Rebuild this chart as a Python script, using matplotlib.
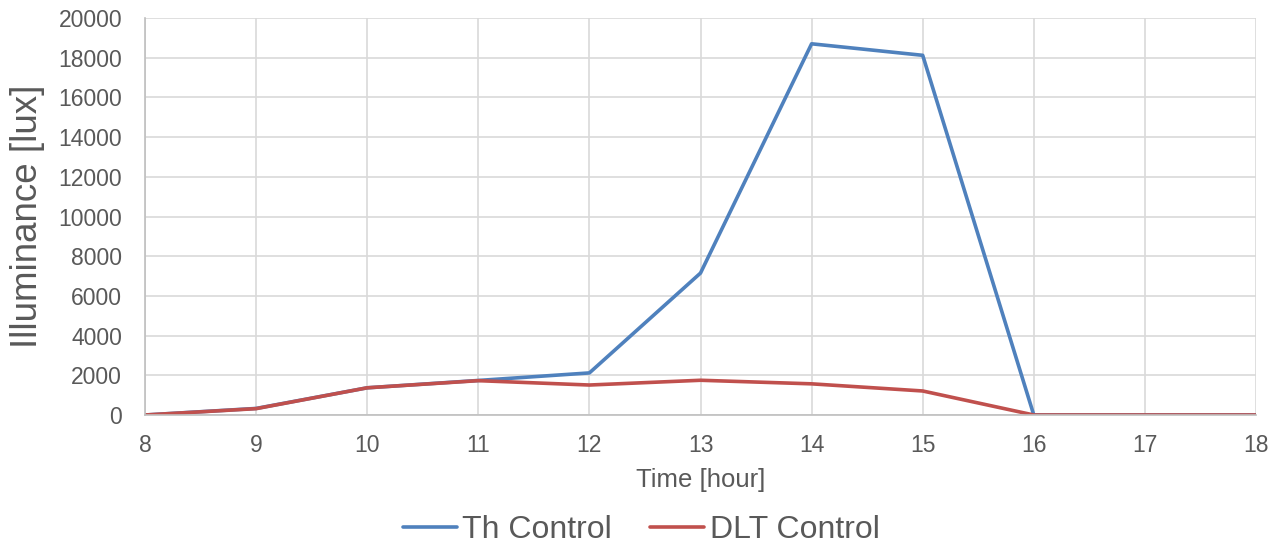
import matplotlib.pyplot as plt

# data
hours = [8, 9, 10, 11, 12, 13, 14, 15, 16, 17, 18]
th_control = [0, 330, 1370, 1740, 2120, 7150, 18700, 18120, 0, 0, 0]
dlt_control = [0, 320, 1370, 1730, 1510, 1750, 1570, 1210, 0, 0, 0]

plt.rcParams['font.family'] = ['Liberation Sans', 'DejaVu Sans']
text_color = '#595959'

fig = plt.figure(figsize=(12.76, 5.48), dpi=100)
ax = fig.add_axes([145 / 1276, 1 - 415 / 548, (1256 - 145) / 1276, (415 - 18) / 548])

ax.plot(hours, th_control, color='#4f81bd', linewidth=2.6, label='Th Control', solid_capstyle='round')
ax.plot(hours, dlt_control, color='#c0504d', linewidth=2.6, label='DLT Control', solid_capstyle='round')

ax.set_xlim(8, 18)
ax.set_ylim(0, 20000)
ax.set_xticks(range(8, 19))
ax.set_yticks(range(0, 20001, 2000))
ax.grid(True, color='#d9d9d9', linewidth=1.2)
ax.set_axisbelow(True)

for side in ['top', 'right']:
    ax.spines[side].set_visible(False)
for side in ['left', 'bottom']:
    ax.spines[side].set_color('#bfbfbf')
    ax.spines[side].set_linewidth(1.2)

ax.tick_params(axis='both', length=0, labelsize=16.5, labelcolor=text_color)
ax.tick_params(axis='x', pad=14)
ax.tick_params(axis='y', pad=16.5)
ax.set_xlabel('Time [hour]', fontsize=18.5, color=text_color)
ax.set_ylabel('Illuminance [lux]', fontsize=26.5, color=text_color)
ax.xaxis.set_label_coords(0.5, (415 - 480) / 397, transform=ax.transAxes)
ax.xaxis.label.set_va('center')
ax.yaxis.set_label_coords((28 - 145) / 1111, 0.5, transform=ax.transAxes)
ax.yaxis.label.set_va('center')

fig.legend(loc='center', bbox_to_anchor=(641 / 1276, 1 - 530 / 548), ncol=2,
           frameon=False, fontsize=23, labelcolor=text_color,
           handlelength=1.7, columnspacing=1.2, handletextpad=0.16)

fig.savefig('out.png', dpi=100)
